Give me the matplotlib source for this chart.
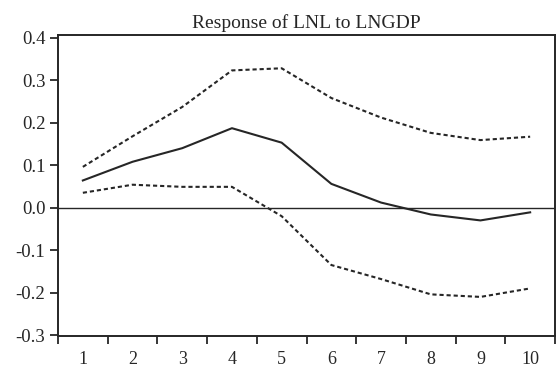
import numpy as np
import matplotlib.pyplot as plt
from matplotlib.ticker import FixedLocator

# impulse response values
periods = [1, 2, 3, 4, 5, 6, 7, 8, 9, 10]
response = [0.064, 0.108, 0.140, 0.187, 0.153, 0.056, 0.012, -0.016, -0.030, -0.011]
upper = [0.096, 0.168, 0.237, 0.323, 0.328, 0.258, 0.212, 0.176, 0.159, 0.167]
lower = [0.035, 0.054, 0.049, 0.049, -0.020, -0.135, -0.168, -0.204, -0.210, -0.190]
yticks = [0.4, 0.3, 0.2, 0.1, 0.0, -0.1, -0.2, -0.3]

plt.rcParams['font.family'] = ['Liberation Serif', 'DejaVu Serif']
ink = '#262626'

fig = plt.figure(figsize=(5.58, 3.67), dpi=100)
ax = fig.add_axes([58 / 558, 1 - 336 / 367, (555 - 58) / 558, (336 - 34.5) / 367])

ax.plot(periods, response, color=ink, lw=1.5)
ax.plot(periods, upper, color=ink, lw=1.5, linestyle=(0, (2, 1.4)))
ax.plot(periods, lower, color=ink, lw=1.5, linestyle=(0, (2, 1.4)))
ax.axhline(0, color=ink, lw=1.0)

ax.set_xlim(0.5, 10.5)
ax.set_ylim(-0.302, 0.4075)

ax.set_yticks(yticks)
ax.set_yticklabels([f'{v:.1f}' for v in yticks])
ax.set_xticks(periods)
ax.xaxis.set_minor_locator(FixedLocator(np.arange(0.5, 11, 1.0)))
ax.tick_params(axis='x', which='major', length=0, pad=11, labelsize=13, colors=ink)
ax.tick_params(axis='x', which='minor', length=6, width=1.3, direction='out', color=ink)
ax.tick_params(axis='y', length=6, width=1.3, direction='out', pad=3, labelsize=13.5, colors=ink)

for s in ax.spines.values():
    s.set_linewidth(1.4)
    s.set_color(ink)

ax.set_title('Response of LNL to LNGDP', fontsize=14, color=ink, pad=5)

fig.savefig('out.png', dpi=100)
